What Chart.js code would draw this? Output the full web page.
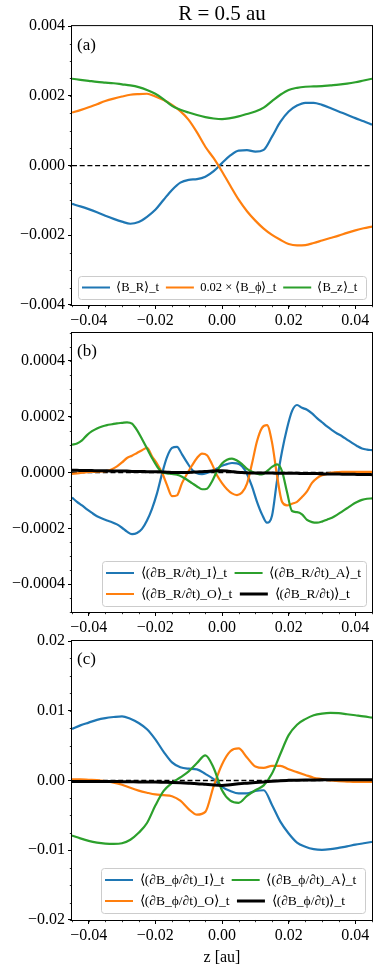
<!DOCTYPE html>
<html><head><meta charset="utf-8">
<script src="https://cdn.jsdelivr.net/npm/chart.js@4.4.1/dist/chart.umd.min.js"></script>
<style>
html,body{margin:0;padding:0;background:#fff;}
body{width:382px;height:970px;position:relative;overflow:hidden;}
canvas{position:absolute;left:0;}
</style></head><body>
<canvas id="ca" width="382" height="330" style="top:0px"></canvas>
<canvas id="cb" width="382" height="322" style="top:318px"></canvas>
<canvas id="cc" width="382" height="345" style="top:625px"></canvas>
<script>
// ---------------- DATA ----------------
// panel (a) and (c): z grid [au]
const zA = [-0.045,-0.0425,-0.04,-0.0375,-0.035,-0.0325,-0.03,-0.0275,-0.025,-0.0225,-0.02,-0.0175,-0.015,-0.0125,-0.01,-0.0075,-0.005,-0.0025,0,0.0025,0.005,0.0075,0.01,0.0125,0.015,0.0175,0.02,0.0225,0.025,0.0275,0.03,0.0325,0.035,0.0375,0.04,0.0425,0.045];
const zC = zA;
// panel (b): z grid [au]
const zB = [-0.045,-0.0435,-0.042,-0.0405,-0.039,-0.0375,-0.036,-0.0345,-0.033,-0.0315,-0.03,-0.0285,-0.027,-0.0255,-0.024,-0.0225,-0.021,-0.0195,-0.018,-0.0165,-0.015,-0.0135,-0.012,-0.0105,-0.009,-0.0075,-0.006,-0.0045,-0.003,-0.0015,0,0.0015,0.003,0.0045,0.006,0.0075,0.009,0.0105,0.012,0.0135,0.015,0.0165,0.018,0.0195,0.021,0.0225,0.024,0.0255,0.027,0.0285,0.03,0.0315,0.033,0.0345,0.036,0.0375,0.039,0.0405,0.042,0.0435,0.045];

// (a) <B_R>_t, 0.02*<B_phi>_t, <B_z>_t
const aBR = [-1.10e-3,-1.17e-3,-1.25e-3,-1.34e-3,-1.44e-3,-1.53e-3,-1.61e-3,-1.67e-3,-1.62e-3,-1.47e-3,-1.27e-3,-0.98e-3,-0.70e-3,-0.49e-3,-0.41e-3,-0.39e-3,-0.32e-3,-0.16e-3,0.07e-3,0.29e-3,0.43e-3,0.44e-3,0.40e-3,0.45e-3,0.83e-3,1.25e-3,1.55e-3,1.72e-3,1.80e-3,1.80e-3,1.74e-3,1.65e-3,1.55e-3,1.46e-3,1.36e-3,1.27e-3,1.17e-3];
const aBphi = [1.52e-3,1.59e-3,1.67e-3,1.76e-3,1.85e-3,1.92e-3,1.98e-3,2.03e-3,2.05e-3,2.06e-3,1.98e-3,1.88e-3,1.74e-3,1.56e-3,1.31e-3,0.95e-3,0.54e-3,0.21e-3,-0.17e-3,-0.58e-3,-0.98e-3,-1.31e-3,-1.58e-3,-1.81e-3,-1.99e-3,-2.13e-3,-2.25e-3,-2.29e-3,-2.28e-3,-2.22e-3,-2.15e-3,-2.08e-3,-2.01e-3,-1.93e-3,-1.86e-3,-1.80e-3,-1.75e-3];
const aBz = [2.49e-3,2.46e-3,2.43e-3,2.40e-3,2.38e-3,2.36e-3,2.33e-3,2.30e-3,2.25e-3,2.17e-3,2.06e-3,1.90e-3,1.71e-3,1.60e-3,1.52e-3,1.45e-3,1.39e-3,1.35e-3,1.33e-3,1.36e-3,1.41e-3,1.48e-3,1.55e-3,1.66e-3,1.85e-3,2.03e-3,2.17e-3,2.23e-3,2.26e-3,2.27e-3,2.28e-3,2.30e-3,2.32e-3,2.35e-3,2.39e-3,2.44e-3,2.49e-3];

// (b) dB_R/dt terms: I, O, A, total
const bI = [-0.90e-4,-1.05e-4,-1.18e-4,-1.32e-4,-1.45e-4,-1.57e-4,-1.65e-4,-1.72e-4,-1.78e-4,-1.86e-4,-1.98e-4,-2.12e-4,-2.21e-4,-2.17e-4,-2.02e-4,-1.72e-4,-1.30e-4,-0.75e-4,-0.05e-4,0.55e-4,0.88e-4,0.92e-4,0.65e-4,0.36e-4,0.10e-4,-0.03e-4,-0.06e-4,-0.02e-4,0.05e-4,0.14e-4,0.24e-4,0.30e-4,0.34e-4,0.33e-4,0.22e-4,-0.05e-4,-0.50e-4,-1.05e-4,-1.50e-4,-1.80e-4,-1.55e-4,-0.30e-4,0.75e-4,1.58e-4,2.20e-4,2.42e-4,2.32e-4,2.25e-4,2.12e-4,1.95e-4,1.80e-4,1.65e-4,1.52e-4,1.40e-4,1.30e-4,1.18e-4,1.06e-4,0.95e-4,0.86e-4,0.82e-4,0.80e-4];
const bO = [-0.05e-4,-0.03e-4,-0.01e-4,0.01e-4,0.02e-4,0.03e-4,0.04e-4,0.06e-4,0.12e-4,0.22e-4,0.36e-4,0.52e-4,0.60e-4,0.70e-4,0.80e-4,0.88e-4,0.58e-4,0.32e-4,0.00e-4,-0.45e-4,-0.85e-4,-0.82e-4,-0.38e-4,-0.05e-4,0.25e-4,0.52e-4,0.68e-4,0.62e-4,0.30e-4,-0.10e-4,-0.38e-4,-0.60e-4,-0.75e-4,-0.81e-4,-0.72e-4,-0.40e-4,0.32e-4,1.12e-4,1.60e-4,1.70e-4,1.08e-4,-0.10e-4,-1.05e-4,-1.18e-4,-1.12e-4,-1.05e-4,-0.88e-4,-0.68e-4,-0.37e-4,-0.20e-4,-0.10e-4,-0.05e-4,0.00e-4,0.01e-4,0.02e-4,0.02e-4,0.02e-4,0.02e-4,0.02e-4,0.02e-4,0.02e-4];
const bA = [1.00e-4,1.04e-4,1.15e-4,1.34e-4,1.48e-4,1.58e-4,1.65e-4,1.70e-4,1.73e-4,1.76e-4,1.78e-4,1.80e-4,1.75e-4,1.52e-4,1.20e-4,0.86e-4,0.52e-4,0.22e-4,0.01e-4,-0.03e-4,-0.05e-4,-0.08e-4,-0.15e-4,-0.26e-4,-0.38e-4,-0.50e-4,-0.60e-4,-0.58e-4,-0.32e-4,0.05e-4,0.32e-4,0.46e-4,0.50e-4,0.43e-4,0.30e-4,0.13e-4,0.03e-4,-0.04e-4,-0.07e-4,0.05e-4,0.20e-4,0.29e-4,0.05e-4,-0.70e-4,-1.38e-4,-1.42e-4,-1.50e-4,-1.70e-4,-1.78e-4,-1.80e-4,-1.76e-4,-1.69e-4,-1.62e-4,-1.52e-4,-1.40e-4,-1.28e-4,-1.16e-4,-1.06e-4,-0.98e-4,-0.94e-4,-0.93e-4];
const bT = [0.08e-4,0.08e-4,0.07e-4,0.07e-4,0.07e-4,0.06e-4,0.06e-4,0.06e-4,0.05e-4,0.05e-4,0.05e-4,0.05e-4,0.04e-4,0.04e-4,0.04e-4,0.03e-4,0.03e-4,0.03e-4,0.02e-4,0.01e-4,0.00e-4,0.00e-4,0.00e-4,0.00e-4,0.01e-4,0.02e-4,0.03e-4,0.04e-4,0.05e-4,0.06e-4,0.06e-4,0.05e-4,0.03e-4,0.01e-4,0.00e-4,-0.01e-4,-0.02e-4,-0.02e-4,-0.02e-4,-0.02e-4,-0.02e-4,-0.03e-4,-0.03e-4,-0.03e-4,-0.03e-4,-0.03e-4,-0.04e-4,-0.04e-4,-0.04e-4,-0.04e-4,-0.05e-4,-0.05e-4,-0.05e-4,-0.05e-4,-0.06e-4,-0.06e-4,-0.06e-4,-0.07e-4,-0.07e-4,-0.07e-4,-0.08e-4];

// (c) dB_phi/dt terms: I, O, A, total
const cI = [7.4e-3,7.9e-3,8.3e-3,8.7e-3,8.95e-3,9.1e-3,9.2e-3,8.85e-3,8.25e-3,7.35e-3,5.9e-3,4.1e-3,2.6e-3,1.9e-3,1.7e-3,1.6e-3,0.95e-3,0.2e-3,-0.9e-3,-1.5e-3,-1.85e-3,-1.85e-3,-1.5e-3,-1.4e-3,-3.5e-3,-5.9e-3,-7.6e-3,-8.9e-3,-9.5e-3,-9.85e-3,-9.95e-3,-9.85e-3,-9.65e-3,-9.45e-3,-9.2e-3,-9.0e-3,-8.8e-3];
const cO = [0.15e-3,0.15e-3,0.1e-3,0.05e-3,-0.1e-3,-0.3e-3,-0.6e-3,-1.05e-3,-1.45e-3,-1.75e-3,-2.0e-3,-2.1e-3,-2.25e-3,-2.9e-3,-4.1e-3,-4.9e-3,-4.5e-3,-0.8e-3,2.3e-3,4.2e-3,4.6e-3,3.3e-3,2.0e-3,1.8e-3,2.1e-3,2.1e-3,1.6e-3,1.2e-3,0.8e-3,0.4e-3,0.2e-3,0.0e-3,-0.1e-3,-0.15e-3,-0.2e-3,-0.2e-3,-0.2e-3];
const cA = [-7.9e-3,-8.3e-3,-8.65e-3,-8.9e-3,-9.05e-3,-9.1e-3,-9.0e-3,-8.5e-3,-7.5e-3,-6.1e-3,-3.6e-3,-1.5e-3,-0.35e-3,0.45e-3,1.3e-3,2.5e-3,3.6e-3,1.8e-3,-1.4e-3,-2.9e-3,-3.2e-3,-2.2e-3,-1.4e-3,-0.7e-3,1.0e-3,3.8e-3,6.5e-3,8.0e-3,8.8e-3,9.35e-3,9.6e-3,9.7e-3,9.65e-3,9.5e-3,9.35e-3,9.2e-3,9.0e-3];
const cT = [-0.15e-3,-0.15e-3,-0.15e-3,-0.15e-3,-0.15e-3,-0.15e-3,-0.17e-3,-0.18e-3,-0.2e-3,-0.2e-3,-0.22e-3,-0.25e-3,-0.28e-3,-0.32e-3,-0.38e-3,-0.45e-3,-0.55e-3,-0.65e-3,-0.7e-3,-0.6e-3,-0.48e-3,-0.38e-3,-0.28e-3,-0.2e-3,-0.1e-3,-0.02e-3,0.02e-3,0.05e-3,0.07e-3,0.08e-3,0.1e-3,0.1e-3,0.1e-3,0.1e-3,0.1e-3,0.1e-3,0.1e-3];

// zero reference line
const zeroZ = [-0.045, 0.045];
const zeroV = [0, 0];

// ticks
const xTickValues = [-0.04,-0.02,0,0.02,0.04];
const xTickLabels = ['\u22120.04','\u22120.02','0.00','0.02','0.04'];
const yTickValuesA = [-0.004,-0.002,0,0.002,0.004];
const yTickLabelsA = ['\u22120.004','\u22120.002','0.000','0.002','0.004'];
const yTickValuesB = [-0.0004,-0.0002,0,0.0002,0.0004];
const yTickLabelsB = ['\u22120.0004','\u22120.0002','0.0000','0.0002','0.0004'];
const yTickValuesC = [-0.02,-0.01,0,0.01,0.02];
const yTickLabelsC = ['\u22120.02','\u22120.01','0.00','0.01','0.02'];

// labels
const labelsA = ['\u27E8B_R\u27E9_t', '0.02 \u00D7 \u27E8B_\u03D5\u27E9_t', '\u27E8B_z\u27E9_t'];
const labelsB = ['\u27E8(\u2202B_R/\u2202t)_I\u27E9_t', '\u27E8(\u2202B_R/\u2202t)_O\u27E9_t', '\u27E8(\u2202B_R/\u2202t)_A\u27E9_t', '\u27E8(\u2202B_R/\u2202t)\u27E9_t'];
const labelsC = ['\u27E8(\u2202B_\u03D5/\u2202t)_I\u27E9_t', '\u27E8(\u2202B_\u03D5/\u2202t)_O\u27E9_t', '\u27E8(\u2202B_\u03D5/\u2202t)_A\u27E9_t', '\u27E8(\u2202B_\u03D5/\u2202t)\u27E9_t'];
const titleText = 'R = 0.5 au';
const xTitleText = 'z [au]';

// ---------------- RENDERING ----------------
const SERIF = "'Liberation Serif','Times New Roman',serif";
Chart.defaults.font.family = SERIF;
Chart.defaults.color = '#000';
const C_BLUE = '#1f77b4', C_ORANGE = '#ff7f0e', C_GREEN = '#2ca02c', C_BLACK = '#000000';

function pts(z, v) { return z.map((x, i) => ({x: x, y: v[i]})); }

function drawLegendFrame(chart) {
  const fr = chart.$frame; if (!fr) return;
  const ctx = chart.ctx; ctx.save();
  const x = Math.round(fr.left) + 0.5, y = Math.round(fr.top) + 0.5;
  const w = Math.round(fr.right - fr.left), h = Math.round(fr.bottom - fr.top);
  ctx.beginPath();
  if (ctx.roundRect) ctx.roundRect(x, y, w, h, 3); else ctx.rect(x, y, w, h);
  ctx.fillStyle = 'rgba(255,255,255,0.8)'; ctx.fill();
  ctx.strokeStyle = '#cccccc'; ctx.lineWidth = 1; ctx.stroke();
  ctx.restore();
}

function decorPlugin(P) {
  return {
    id: 'decor',
    beforeLayout(chart) {
      const lg = chart.legend;
      if (lg && !lg.$moved) {
        lg.$moved = true;
        lg._layers = function () { return [{ z: 5, draw: () => { drawLegendFrame(chart); lg.draw(); } }]; };
      }
    },
    afterLayout(chart) {
      const ca = chart.chartArea, lg = chart.legend;
      const fr = { right: ca.right - P.legInset, bottom: ca.bottom - P.legInset };
      fr.left = fr.right - P.legW; fr.top = fr.bottom - P.legH;
      chart.$frame = fr;
      const p = P.legPad;
      lg.left = fr.left + P.legItemX - p;
      lg.right = lg.left + P.legWrap;
      lg.top = fr.top + P.legRowY - p - P.legFont / 2;
      lg.bottom = fr.bottom + 4;
      lg.width = lg.right - lg.left; lg.height = lg.bottom - lg.top;
    },
    afterDraw(chart) {
      const ctx = chart.ctx, ca = chart.chartArea, xs = chart.scales.x, ys = chart.scales.y;
      ctx.save();
      ctx.strokeStyle = '#000'; ctx.lineWidth = 0.8;
      ctx.beginPath();
      for (let k = 0; k < 200; k++) {
        const v = P.xMin + k * P.xMinor; if (v > P.xMax + 1e-12) break;
        const px = Math.round(xs.getPixelForValue(v)) + 0.5;
        ctx.moveTo(px, ca.bottom); ctx.lineTo(px, ca.bottom + 2.2);
      }
      for (let k = 0; k < 200; k++) {
        const v = P.yMin + k * P.yMinor; if (v > P.yMax + 1e-12) break;
        const py = Math.round(ys.getPixelForValue(v)) + 0.5;
        ctx.moveTo(ca.left, py); ctx.lineTo(ca.left - 2.2, py);
      }
      ctx.stroke();
      ctx.lineWidth = 1;
      ctx.strokeRect(ca.left - 0.5, ca.top - 0.5, ca.width + 1, ca.height + 1);
      ctx.fillStyle = '#000'; ctx.font = '17px ' + SERIF; ctx.textBaseline = 'middle'; ctx.textAlign = 'left';
      ctx.fillText(P.panelLabel, ca.left + 5, ca.top + 19);
      ctx.restore();
    }
  };
}

function buildPanel(P) {
  const datasets = P.series.map(s => ({
    label: s.label, data: pts(P.z, s.values), borderColor: s.color, backgroundColor: s.color,
    borderWidth: s.width, pointRadius: 0, pointHoverRadius: 0, cubicInterpolationMode: 'monotone',
    order: s.order, fill: false
  }));
  datasets.push({ label: 'zero', data: pts(zeroZ, zeroV), borderColor: '#000', backgroundColor: '#000',
    borderWidth: 1.3, borderDash: [5, 2.7], pointRadius: 0, order: 10, fill: false });
  const nS = P.series.length;
  const tickFont = { family: SERIF, size: 16 };
  const gridCfg = { display: true, drawOnChartArea: false, drawTicks: true, tickLength: 4, tickWidth: 1, tickColor: '#000', color: '#000' };
  new Chart(document.getElementById(P.canvas), {
    type: 'line',
    data: { datasets: datasets },
    options: {
      responsive: false, animation: false, devicePixelRatio: 1, events: [],
      layout: { padding: { top: P.padTop, right: 10, left: 0, bottom: 0 } },
      plugins: {
        tooltip: { enabled: false },
        title: P.title ? { display: true, text: P.title, color: '#000', fullSize: false,
          font: { family: SERIF, size: 21, weight: 'normal', lineHeight: 1.1 }, padding: { top: 3, bottom: 0 } } : { display: false },
        legend: {
          display: true, position: 'bottom', align: 'start', maxHeight: 0.001,
          labels: {
            font: { family: SERIF, size: P.legFont }, color: '#000', padding: P.legPad,
            usePointStyle: true, pointStyle: 'line', pointStyleWidth: 28,
            generateLabels(chart) {
              const items = Chart.defaults.plugins.legend.labels.generateLabels(chart);
              return items.filter(it => it.datasetIndex < nS).map(it => {
                const ds = chart.data.datasets[it.datasetIndex];
                it.lineWidth = ds.borderWidth; it.strokeStyle = ds.borderColor; it.fillStyle = ds.borderColor;
                it.pointStyle = 'line'; it.lineDash = []; it.fontColor = '#000';
                return it;
              });
            },
            sort: (a, b) => P.legendOrder.indexOf(a.datasetIndex) - P.legendOrder.indexOf(b.datasetIndex)
          }
        }
      },
      scales: {
        x: {
          type: 'linear', position: 'bottom', min: P.xMin, max: P.xMax,
          afterBuildTicks: s => { s.ticks = xTickValues.map(v => ({ value: v })); },
          ticks: { callback: (v, i) => xTickLabels[i], font: tickFont, color: '#000', padding: 2, maxRotation: 0, autoSkip: false },
          grid: gridCfg, border: { display: false },
          title: P.xTitle ? { display: true, text: P.xTitle, color: '#000', font: { family: SERIF, size: 16 }, padding: { top: 0, bottom: 3 } } : { display: false },
          afterFit: s => { s.height = P.xAxisH; }
        },
        y: {
          type: 'linear', position: 'left', min: P.yMin, max: P.yMax,
          afterBuildTicks: s => { s.ticks = P.yTicks.map(v => ({ value: v })); },
          ticks: { callback: (v, i) => P.yLabels[i], font: tickFont, color: '#000', padding: 3, autoSkip: false },
          grid: gridCfg, border: { display: false },
          afterFit: s => { s.width = 72; }
        }
      }
    },
    plugins: [decorPlugin(P)]
  });
}

buildPanel({
  canvas: 'ca', z: zA, padTop: 0, xAxisH: 25, title: titleText, xTitle: null, panelLabel: '(a)',
  xMin: -0.045, xMax: 0.045, xMinor: 0.005, yMin: -0.004, yMax: 0.004, yMinor: 0.0005,
  yTicks: yTickValuesA, yLabels: yTickLabelsA,
  series: [
    { label: labelsA[0], values: aBR, color: C_BLUE, width: 2.2, order: 3 },
    { label: labelsA[1], values: aBphi, color: C_ORANGE, width: 2.2, order: 2 },
    { label: labelsA[2], values: aBz, color: C_GREEN, width: 2.2, order: 1 }
  ],
  legendOrder: [0, 1, 2], legFont: 12.5, legPad: 7, legW: 288, legH: 23, legInset: 6, legItemX: 4, legRowY: 11.5, legWrap: 600
});

buildPanel({
  canvas: 'cb', z: zB, padTop: 15, xAxisH: 28, title: null, xTitle: null, panelLabel: '(b)',
  xMin: -0.045, xMax: 0.045, xMinor: 0.005, yMin: -0.0005, yMax: 0.0005, yMinor: 0.00005,
  yTicks: yTickValuesB, yLabels: yTickLabelsB,
  series: [
    { label: labelsB[0], values: bI, color: C_BLUE, width: 2.2, order: 4 },
    { label: labelsB[1], values: bO, color: C_ORANGE, width: 2.2, order: 3 },
    { label: labelsB[2], values: bA, color: C_GREEN, width: 2.2, order: 2 },
    { label: labelsB[3], values: bT, color: C_BLACK, width: 3, order: 1 }
  ],
  legendOrder: [0, 2, 1, 3], legFont: 13.5, legPad: 7.5, legW: 264, legH: 45, legInset: 6, legItemX: 4, legRowY: 12, legWrap: 340
});

buildPanel({
  canvas: 'cc', z: zC, padTop: 16, xAxisH: 50, title: null, xTitle: xTitleText, panelLabel: '(c)',
  xMin: -0.045, xMax: 0.045, xMinor: 0.005, yMin: -0.02, yMax: 0.02, yMinor: 0.0025,
  yTicks: yTickValuesC, yLabels: yTickLabelsC,
  series: [
    { label: labelsC[0], values: cI, color: C_BLUE, width: 2.2, order: 4 },
    { label: labelsC[1], values: cO, color: C_ORANGE, width: 2.2, order: 3 },
    { label: labelsC[2], values: cA, color: C_GREEN, width: 2.2, order: 2 },
    { label: labelsC[3], values: cT, color: C_BLACK, width: 3, order: 1 }
  ],
  legendOrder: [0, 2, 1, 3], legFont: 13.5, legPad: 7.5, legW: 264, legH: 45, legInset: 7, legItemX: 4, legRowY: 12, legWrap: 340
});
</script>
</body></html>
